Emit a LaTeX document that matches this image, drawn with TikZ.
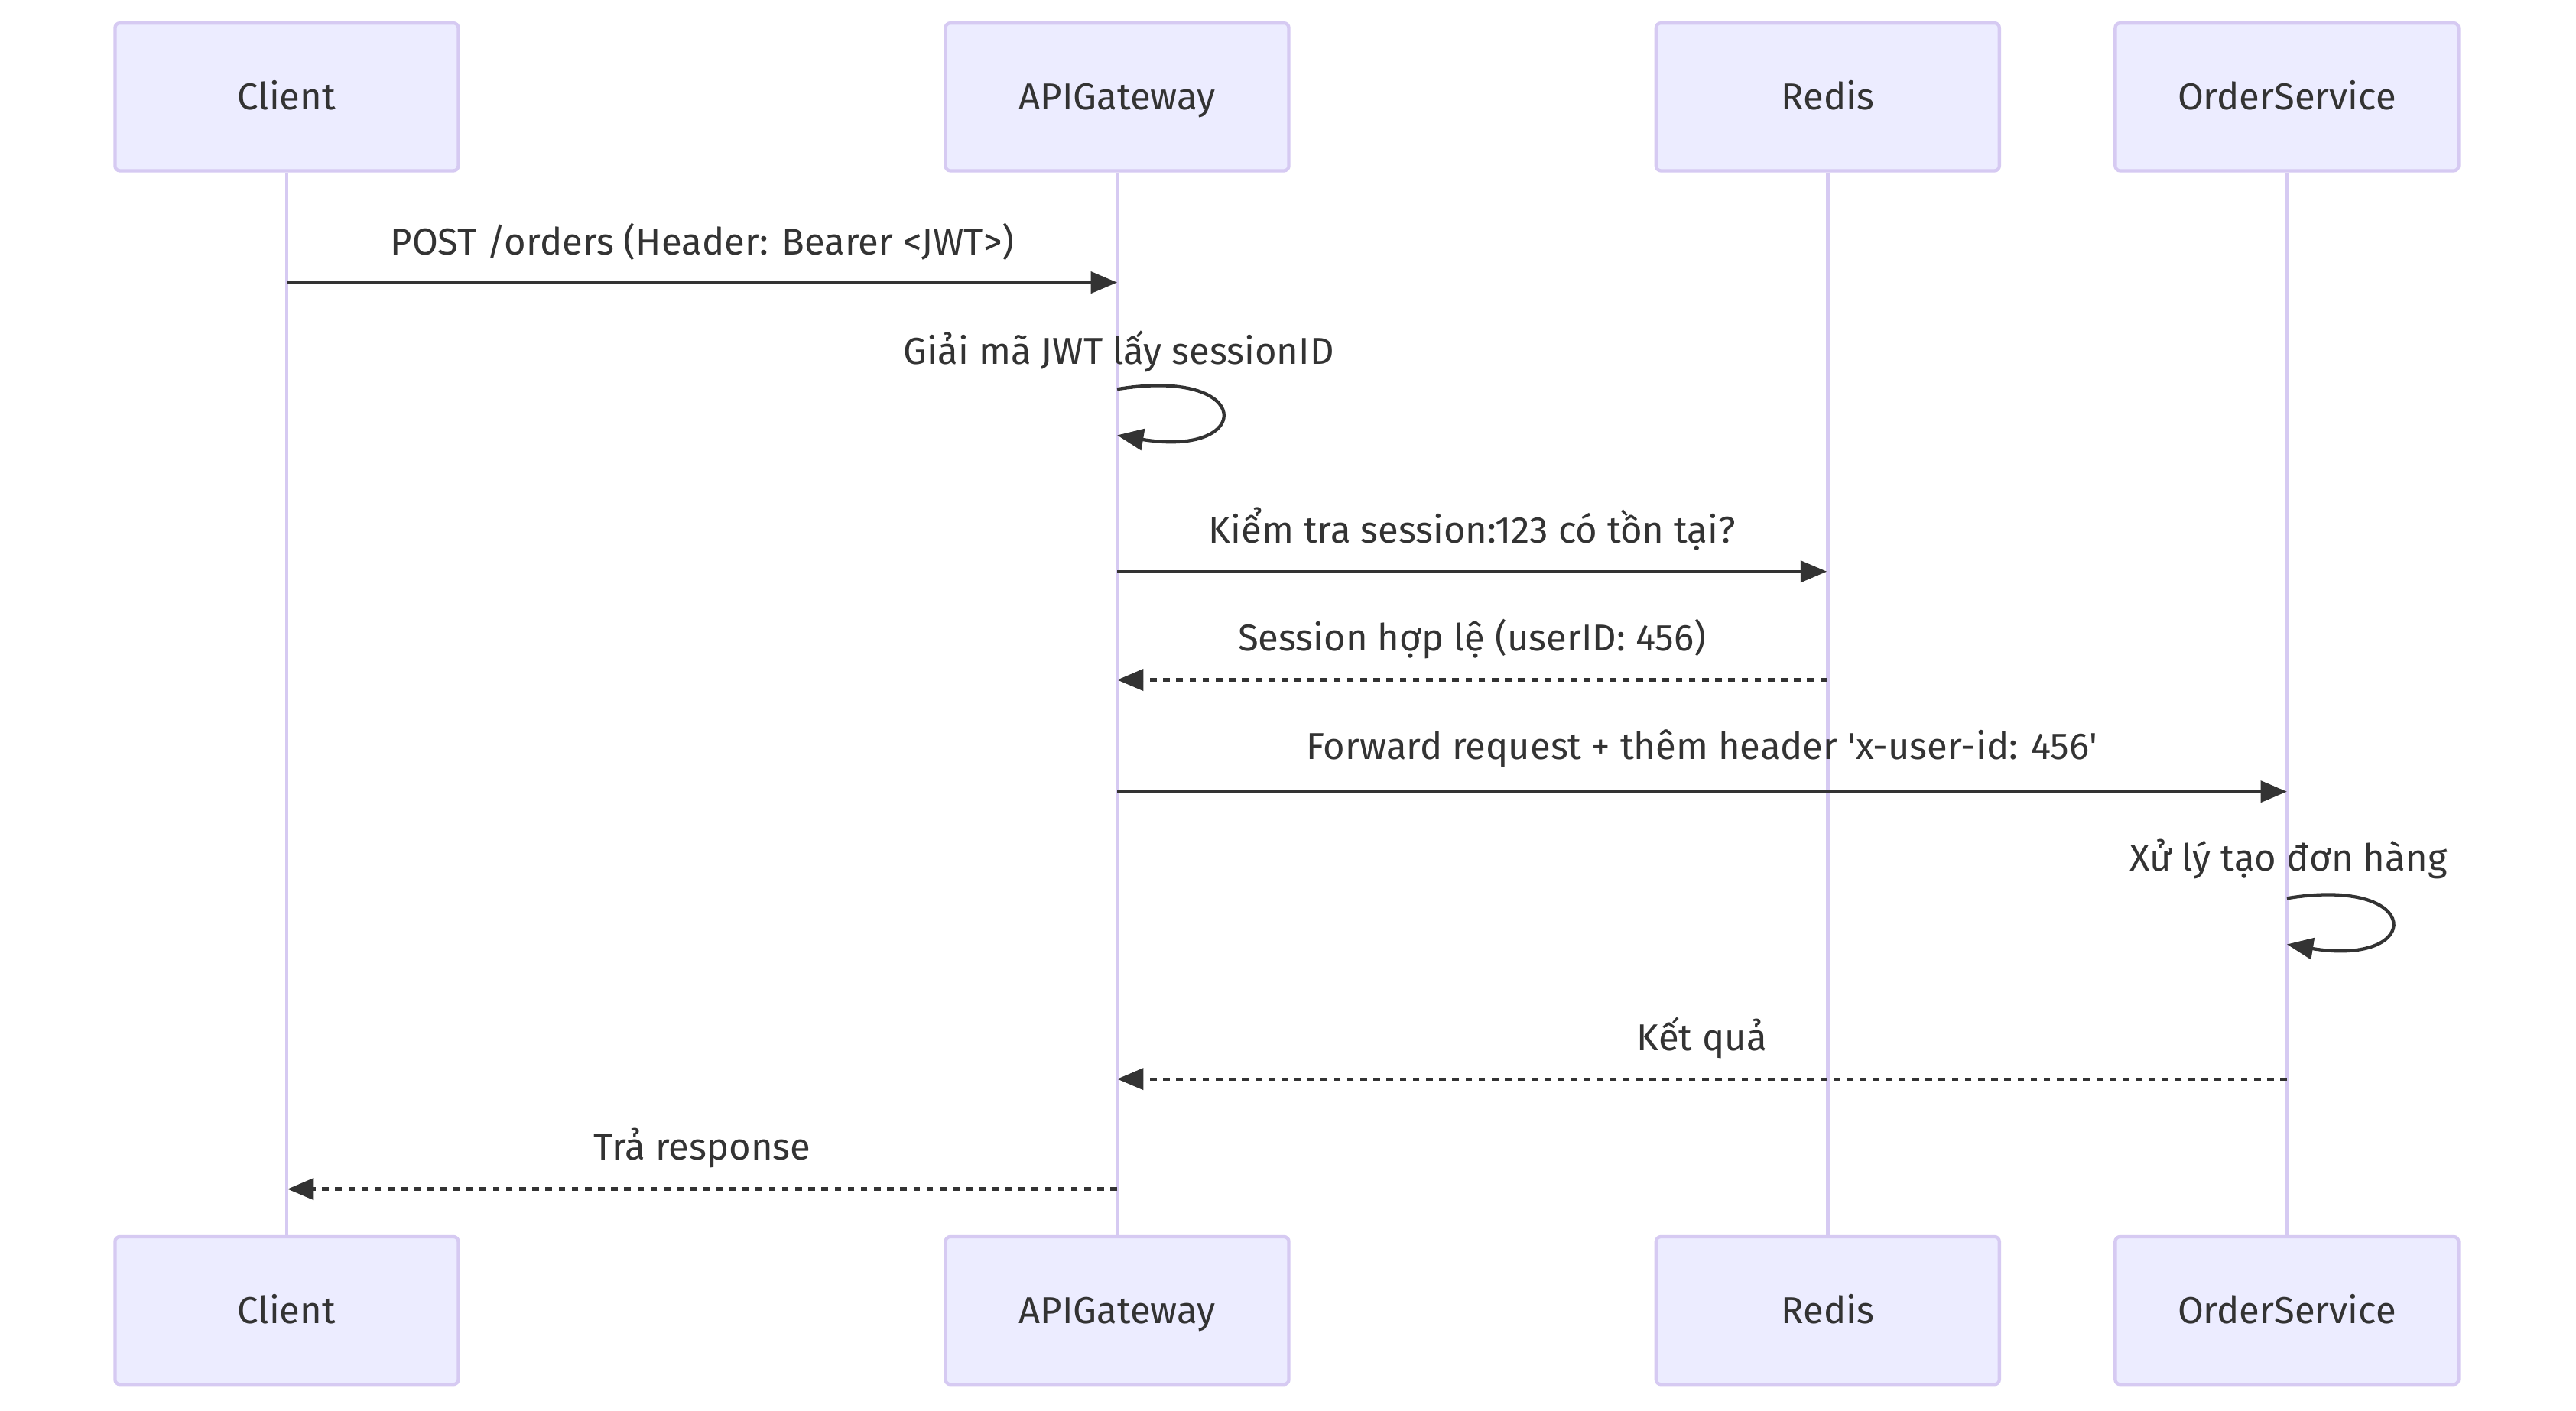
\documentclass[tikz,border=0pt]{standalone}
\usepackage{fontspec}
\setmainfont{Fira Sans}
\usetikzlibrary{arrows.meta}
\definecolor{actorfill}{HTML}{ECECFF}
\definecolor{actorline}{RGB}{214,202,242}
\definecolor{msgline}{HTML}{333333}
\tikzset{
  actor/.style={draw=actorline, fill=actorfill, line width=1pt, rounded corners=1.5pt,
    minimum width=104.5pt, minimum height=45pt, text=msgline, text height=10.3pt, text depth=2.5pt,
    font=\fontsize{11.4}{13}\selectfont},
  lifeline/.style={draw=actorline, line width=1.1pt},
  msg/.style={draw=msgline, line width=1pt},
  reply/.style={msg, dash pattern=on 2pt off 2pt},
  lbl/.style={text=msgline, font=\fontsize{11.4}{13}\selectfont, inner sep=0pt}
}
\begin{document}
\begin{tikzpicture}[x=0.5pt, y=-0.5pt]
\useasboundingbox (0,0) rectangle (1568,859);

\begin{scope}
	\node[actor] (Ct) at (174.5,59) {Client};
	\node[actor] (Gt) at (680,59) {APIGateway};
	\node[actor] (Rt) at (1112.5,59) {Redis};
	\node[actor] (Ot) at (1392,59) {OrderService};

	\node[actor] (Cb) at (174.5,798) {Client};
	\node[actor] (Gb) at (680,798) {APIGateway};
	\node[actor] (Rb) at (1112.5,798) {Redis};
	\node[actor] (Ob) at (1392,798) {OrderService};
\end{scope}

\begin{scope}[every edge/.style={lifeline}]
    \path (Ct) edge (Cb);
    \path (Gt) edge (Gb);
    \path (Rt) edge (Rb);
    \path (Ot) edge (Ob);
\end{scope}

% message ends on the lifelines
\coordinate (c1) at (175,172);   \coordinate (g1) at (680,172);
\coordinate (g2a) at (680,237);  \coordinate (g2b) at (680,265);
\coordinate (g3) at (680,348);   \coordinate (r3) at (1112,348);
\coordinate (r4) at (1112,414);  \coordinate (g4) at (680,414);
\coordinate (g5) at (680,482);   \coordinate (o5) at (1392,482);
\coordinate (o6a) at (1392,547); \coordinate (o6b) at (1392,575);
\coordinate (o7) at (1392,657);  \coordinate (g7) at (680,657);
\coordinate (g8) at (680,724);   \coordinate (c8) at (175,724);

\begin{scope}[>={Triangle[length=8pt,width=6.5pt]}, every edge/.style={msg}]

    \path [->] (c1) edge node[lbl, above=12.5pt, anchor=center] (m1) {POST /orders (Header: Bearer <JWT>)} (g1);

    \draw [msg,->] (g2a) .. controls +(84,-14) and +(84,14) .. (g2b);
    \node[lbl] (m2) at (681,214) {Giải mã JWT lấy sessionID};

    \path [->] (g3) edge node[lbl, above=13pt, anchor=center] (m3) {Kiểm tra session:123 có tồn tại?} (r3);
    \path [->, every edge/.append style={reply}] (r4) edge node[lbl, above=12.5pt, anchor=center] (m4) {Session hợp lệ (userID: 456)} (g4);
    \path [->] (g5) edge node[lbl, above=13pt, anchor=center] (m5) {Forward request + thêm header \textquotesingle x-user-id: 456\textquotesingle} (o5);

    \draw [msg,->] (o6a) .. controls +(84,-14) and +(84,14) .. (o6b);
    \node[lbl] (m6) at (1393,523) {Xử lý tạo đơn hàng};

    \path [->, every edge/.append style={reply}] (o7) edge node[lbl, above=12.5pt, anchor=center] (m7) {Kết quả} (g7);
    \path [->, every edge/.append style={reply}] (g8) edge node[lbl, above=12.5pt, anchor=center] (m8) {Trả response} (c8);

\end{scope}

\end{tikzpicture}
\end{document}
